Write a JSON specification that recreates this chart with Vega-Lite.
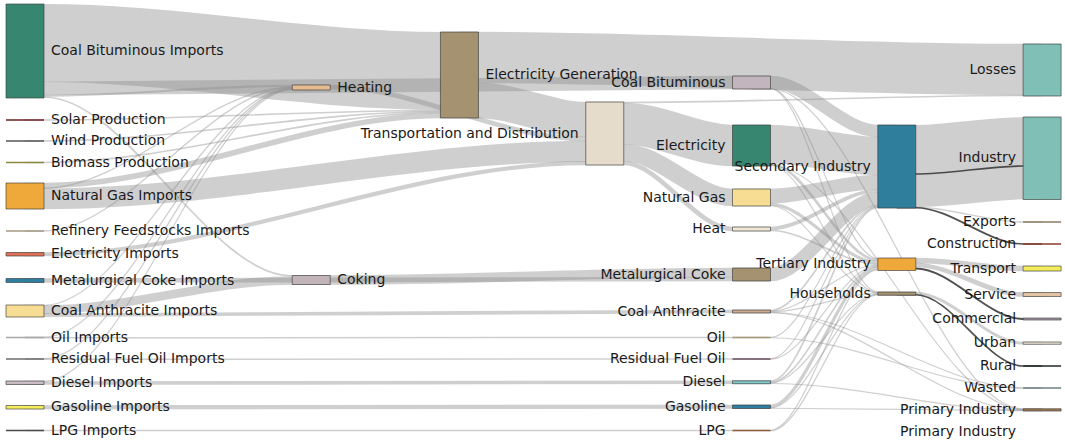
{
  "$schema": "https://vega.github.io/schema/vega-lite/v6.json",
  "width": 1065,
  "height": 442,
  "autosize": {"type": "none"},
  "padding": 0,
  "background": "white",
  "config": {"view": {"stroke": null}},
  "datasets": {
    "nodes": [
      {"id": "n0", "name": "Coal Bituminous Imports", "col": 0, "y0": 4, "y1": 98},
      {"id": "n1", "name": "Solar Production", "col": 0, "y0": 119.25, "y1": 120.75},
      {"id": "n2", "name": "Wind Production", "col": 0, "y0": 140.25, "y1": 141.75},
      {"id": "n3", "name": "Biomass Production", "col": 0, "y0": 161.75, "y1": 163.25},
      {"id": "n4", "name": "Natural Gas Imports", "col": 0, "y0": 183, "y1": 209},
      {"id": "n5", "name": "Refinery Feedstocks Imports", "col": 0, "y0": 230.25, "y1": 231.75},
      {"id": "n6", "name": "Electricity Imports", "col": 0, "y0": 252.5, "y1": 256},
      {"id": "n7", "name": "Metalurgical Coke Imports", "col": 0, "y0": 278.5, "y1": 282.5},
      {"id": "n8", "name": "Coal Anthracite Imports", "col": 0, "y0": 305, "y1": 317},
      {"id": "n9", "name": "Oil Imports", "col": 0, "y0": 336.75, "y1": 338.25},
      {"id": "n10", "name": "Residual Fuel Oil Imports", "col": 0, "y0": 358.25, "y1": 359.75},
      {"id": "n11", "name": "Diesel Imports", "col": 0, "y0": 381, "y1": 384.5},
      {"id": "n12", "name": "Gasoline Imports", "col": 0, "y0": 405.5, "y1": 409},
      {"id": "n13", "name": "LPG Imports", "col": 0, "y0": 429.75, "y1": 431.25},
      {"id": "n14", "name": "Heating", "col": 1.97, "y0": 85, "y1": 90},
      {"id": "n15", "name": "Coking", "col": 1.97, "y0": 275.5, "y1": 284.5},
      {"id": "n16", "name": "Electricity Generation", "col": 2.99, "y0": 32, "y1": 118},
      {"id": "n17", "name": "Transportation and Distribution", "col": 3.99, "y0": 102, "y1": 165},
      {"id": "n18", "name": "Coal Bituminous", "col": 5, "y0": 76, "y1": 89},
      {"id": "n19", "name": "Electricity", "col": 5, "y0": 125, "y1": 166},
      {"id": "n20", "name": "Natural Gas", "col": 5, "y0": 189, "y1": 206},
      {"id": "n21", "name": "Heat", "col": 5, "y0": 227, "y1": 231},
      {"id": "n22", "name": "Metalurgical Coke", "col": 5, "y0": 268, "y1": 281},
      {"id": "n23", "name": "Coal Anthracite", "col": 5, "y0": 310, "y1": 313},
      {"id": "n24", "name": "Oil", "col": 5, "y0": 336.75, "y1": 338.25},
      {"id": "n25", "name": "Residual Fuel Oil", "col": 5, "y0": 358.25, "y1": 359.75},
      {"id": "n26", "name": "Diesel", "col": 5, "y0": 380.75, "y1": 383.75},
      {"id": "n27", "name": "Gasoline", "col": 5, "y0": 405, "y1": 408.5},
      {"id": "n28", "name": "LPG", "col": 5, "y0": 429.75, "y1": 431.25},
      {"id": "n29", "name": "Secondary Industry", "col": 6, "y0": 125, "y1": 208},
      {"id": "n30", "name": "Tertiary Industry", "col": 6, "y0": 258, "y1": 270.5},
      {"id": "n31", "name": "Households", "col": 6, "y0": 292, "y1": 295.25},
      {"id": "n32", "name": "Losses", "col": 7, "y0": 44, "y1": 96},
      {"id": "n33", "name": "Industry", "col": 7, "y0": 117, "y1": 199.5},
      {"id": "n34", "name": "Exports", "col": 7, "y0": 221.25, "y1": 222.75},
      {"id": "n35", "name": "Construction", "col": 7, "y0": 243.25, "y1": 244.75},
      {"id": "n36", "name": "Transport", "col": 7, "y0": 266, "y1": 271},
      {"id": "n37", "name": "Service", "col": 7, "y0": 292.5, "y1": 296.5},
      {"id": "n38", "name": "Commercial", "col": 7, "y0": 318, "y1": 320},
      {"id": "n39", "name": "Urban", "col": 7, "y0": 342, "y1": 344.25},
      {"id": "n40", "name": "Rural", "col": 7, "y0": 365.25, "y1": 366.75},
      {"id": "n41", "name": "Wasted", "col": 7, "y0": 387.25, "y1": 388.75},
      {"id": "n42", "name": "Primary Industry", "col": 7, "y0": 408.75, "y1": 411},
      {"id": "n43", "name": "Primary Industry", "col": 7, "y0": 432, "y1": 432}
    ],
    "links": [
      {"id": "l1", "v": 78, "k": "g", "x": [0, 0.13, 2.86, 2.99], "y": [43, 43, 71, 71]},
      {"id": "l2", "v": 13, "k": "g", "x": [0, 0.13, 4.87, 5], "y": [88.5, 88.5, 82.5, 82.5]},
      {"id": "l3", "v": 1.5, "k": "g", "x": [0, 0.13, 1.84, 1.97], "y": [95.75, 95.75, 85.75, 85.75]},
      {"id": "l4", "v": 1, "k": "g", "x": [0, 0.13, 1.84, 1.97], "y": [97, 97, 276, 276]},
      {"id": "l5", "v": 1, "k": "g", "x": [0, 0.13, 2.86, 2.99], "y": [120, 120, 110.5, 110.5]},
      {"id": "l6", "v": 1, "k": "g", "x": [0, 0.13, 2.86, 2.99], "y": [141, 141, 111.5, 111.5]},
      {"id": "l7", "v": 1, "k": "g", "x": [0, 0.13, 2.86, 2.99], "y": [162.5, 162.5, 112.5, 112.5]},
      {"id": "l8", "v": 5, "k": "g", "x": [0, 0.13, 2.86, 2.99], "y": [185.5, 185.5, 115.5, 115.5]},
      {"id": "l9", "v": 0.6, "k": "g", "x": [0, 0.13, 1.84, 1.97], "y": [188.3, 188.3, 86.8, 86.8]},
      {"id": "l10", "v": 20.4, "k": "g", "x": [0, 0.13, 3.86, 3.99], "y": [198.8, 198.8, 151.2, 151.2]},
      {"id": "l11", "v": 0.6, "k": "g", "x": [0, 0.13, 1.84, 1.97], "y": [231, 231, 87.4, 87.4]},
      {"id": "l12", "v": 3.5, "k": "g", "x": [0, 0.13, 3.86, 3.99], "y": [254.25, 254.25, 163.15, 163.15]},
      {"id": "l13", "v": 4, "k": "g", "x": [0, 0.13, 4.87, 5], "y": [280.5, 280.5, 279, 279]},
      {"id": "l14", "v": 0.6, "k": "g", "x": [0, 0.13, 1.84, 1.97], "y": [305.3, 305.3, 88, 88]},
      {"id": "l15", "v": 8, "k": "g", "x": [0, 0.13, 1.84, 1.97], "y": [309.6, 309.6, 280.5, 280.5]},
      {"id": "l16", "v": 3, "k": "g", "x": [0, 0.13, 4.87, 5], "y": [315.1, 315.1, 311.5, 311.5]},
      {"id": "l17", "v": 0.6, "k": "g", "x": [0, 0.13, 1.84, 1.97], "y": [337.2, 337.2, 88.6, 88.6]},
      {"id": "l18", "v": 0.8, "k": "g", "x": [0, 0.13, 4.87, 5], "y": [337.7, 337.7, 337.5, 337.5]},
      {"id": "l19", "v": 0.6, "k": "g", "x": [0, 0.13, 1.84, 1.97], "y": [358.7, 358.7, 89.2, 89.2]},
      {"id": "l20", "v": 0.8, "k": "g", "x": [0, 0.13, 4.87, 5], "y": [359.2, 359.2, 359, 359]},
      {"id": "l21", "v": 0.5, "k": "g", "x": [0, 0.13, 1.84, 1.97], "y": [381.25, 381.25, 89.75, 89.75]},
      {"id": "l22", "v": 3, "k": "g", "x": [0, 0.13, 4.87, 5], "y": [383, 383, 382.25, 382.25]},
      {"id": "l23", "v": 3.5, "k": "g", "x": [0, 0.13, 4.87, 5], "y": [407.25, 407.25, 406.75, 406.75]},
      {"id": "l24", "v": 1, "k": "g", "x": [0, 0.13, 4.87, 5], "y": [430.5, 430.5, 430.5, 430.5]},
      {"id": "l25", "v": 4, "k": "g", "x": [1.97, 2.1, 3.86, 3.99], "y": [87, 87, 139, 139]},
      {"id": "l26", "v": 9, "k": "g", "x": [1.97, 2.1, 4.87, 5], "y": [280, 280, 272.5, 272.5]},
      {"id": "l27", "v": 51, "k": "g", "x": [2.99, 3.12, 6.87, 7], "y": [57.5, 57.5, 69.5, 69.5]},
      {"id": "l28", "v": 35, "k": "g", "x": [2.99, 3.12, 3.86, 3.99], "y": [100.5, 100.5, 119.5, 119.5]},
      {"id": "l29", "v": 1, "k": "g", "x": [3.99, 4.12, 6.87, 7], "y": [102.5, 102.5, 95.5, 95.5]},
      {"id": "l30", "v": 41, "k": "g", "x": [3.99, 4.12, 4.87, 5], "y": [123.5, 123.5, 145.5, 145.5]},
      {"id": "l31", "v": 17, "k": "g", "x": [3.99, 4.12, 4.87, 5], "y": [152.5, 152.5, 197.5, 197.5]},
      {"id": "l32", "v": 4, "k": "g", "x": [3.99, 4.12, 4.87, 5], "y": [163, 163, 229, 229]},
      {"id": "l33", "v": 12, "k": "g", "x": [5, 5.13, 5.87, 6], "y": [82, 82, 131, 131]},
      {"id": "l34", "v": 0.5, "k": "g", "x": [5, 5.13, 5.87, 6], "y": [88.25, 88.25, 258.5, 258.5]},
      {"id": "l35", "v": 0.5, "k": "g", "x": [5, 5.13, 5.87, 6], "y": [88.6, 88.6, 292.1, 292.1]},
      {"id": "l36", "v": 0.5, "k": "g", "x": [5, 5.13, 6.87, 7], "y": [88.9, 88.9, 408.9, 408.9]},
      {"id": "l37", "v": 38, "k": "g", "x": [5, 5.13, 5.87, 6], "y": [144, 144, 156, 156]},
      {"id": "l38", "v": 2, "k": "g", "x": [5, 5.13, 5.87, 6], "y": [164, 164, 260, 260]},
      {"id": "l39", "v": 0.5, "k": "g", "x": [5, 5.13, 5.87, 6], "y": [165.25, 165.25, 292.5, 292.5]},
      {"id": "l40", "v": 0.5, "k": "g", "x": [5, 5.13, 6.87, 7], "y": [165.75, 165.75, 409.3, 409.3]},
      {"id": "l41", "v": 14, "k": "g", "x": [5, 5.13, 5.87, 6], "y": [196, 196, 182, 182]},
      {"id": "l42", "v": 2.5, "k": "g", "x": [5, 5.13, 5.87, 6], "y": [204.25, 204.25, 262.5, 262.5]},
      {"id": "l43", "v": 0.5, "k": "g", "x": [5, 5.13, 5.87, 6], "y": [205.75, 205.75, 293, 293]},
      {"id": "l44", "v": 3, "k": "g", "x": [5, 5.13, 5.87, 6], "y": [228.5, 228.5, 190.5, 190.5]},
      {"id": "l45", "v": 1, "k": "g", "x": [5, 5.13, 5.87, 6], "y": [230.5, 230.5, 264.25, 264.25]},
      {"id": "l46", "v": 13, "k": "g", "x": [5, 5.13, 5.87, 6], "y": [274.5, 274.5, 198.5, 198.5]},
      {"id": "l47", "v": 1, "k": "g", "x": [5, 5.13, 5.87, 6], "y": [310.5, 310.5, 205.5, 205.5]},
      {"id": "l48", "v": 0.5, "k": "g", "x": [5, 5.13, 5.87, 6], "y": [311.25, 311.25, 265, 265]},
      {"id": "l49", "v": 0.5, "k": "g", "x": [5, 5.13, 5.87, 6], "y": [311.75, 311.75, 293.5, 293.5]},
      {"id": "l50", "v": 0.5, "k": "g", "x": [5, 5.13, 6.87, 7], "y": [312.25, 312.25, 387.75, 387.75]},
      {"id": "l51", "v": 0.5, "k": "g", "x": [5, 5.13, 6.87, 7], "y": [312.75, 312.75, 409.6, 409.6]},
      {"id": "l52", "v": 0.5, "k": "g", "x": [5, 5.13, 5.87, 6], "y": [337.25, 337.25, 206.25, 206.25]},
      {"id": "l53", "v": 0.5, "k": "g", "x": [5, 5.13, 6.87, 7], "y": [337.75, 337.75, 388.25, 388.25]},
      {"id": "l54", "v": 0.5, "k": "g", "x": [5, 5.13, 5.87, 6], "y": [358.75, 358.75, 206.75, 206.75]},
      {"id": "l55", "v": 0.5, "k": "g", "x": [5, 5.13, 5.87, 6], "y": [359.25, 359.25, 265.5, 265.5]},
      {"id": "l56", "v": 1, "k": "g", "x": [5, 5.13, 5.87, 6], "y": [381.25, 381.25, 207.5, 207.5]},
      {"id": "l57", "v": 1, "k": "g", "x": [5, 5.13, 5.87, 6], "y": [382.25, 382.25, 266.5, 266.5]},
      {"id": "l58", "v": 0.5, "k": "g", "x": [5, 5.13, 5.87, 6], "y": [383, 383, 294, 294]},
      {"id": "l59", "v": 0.5, "k": "g", "x": [5, 5.13, 6.87, 7], "y": [383.5, 383.5, 410.1, 410.1]},
      {"id": "l60", "v": 2.5, "k": "g", "x": [5, 5.13, 5.87, 6], "y": [406.25, 406.25, 268.25, 268.25]},
      {"id": "l61", "v": 0.5, "k": "g", "x": [5, 5.13, 5.87, 6], "y": [407.75, 407.75, 294.5, 294.5]},
      {"id": "l62", "v": 0.5, "k": "g", "x": [5, 5.13, 6.87, 7], "y": [408.25, 408.25, 410.6, 410.6]},
      {"id": "l63", "v": 0.5, "k": "g", "x": [5, 5.13, 5.87, 6], "y": [430.25, 430.25, 269.75, 269.75]},
      {"id": "l64", "v": 0.5, "k": "g", "x": [5, 5.13, 5.87, 6], "y": [430.75, 430.75, 295, 295]},
      {"id": "l65", "v": 82, "k": "g", "x": [6, 6.13, 6.87, 7], "y": [166, 166, 158.25, 158.25]},
      {"id": "l66", "v": 1, "k": "d", "x": [6, 6.13, 6.87, 7], "y": [174, 174, 166, 166]},
      {"id": "l67", "v": 0.8, "k": "g", "x": [6, 6.13, 6.87, 7], "y": [207.25, 207.25, 222, 222]},
      {"id": "l68", "v": 1, "k": "d", "x": [6, 6.13, 6.87, 7], "y": [207.75, 207.75, 244, 244]},
      {"id": "l69", "v": 5, "k": "g", "x": [6, 6.13, 6.87, 7], "y": [260.5, 260.5, 268.5, 268.5]},
      {"id": "l70", "v": 4, "k": "g", "x": [6, 6.13, 6.87, 7], "y": [265, 265, 294.5, 294.5]},
      {"id": "l71", "v": 1.2, "k": "d", "x": [6, 6.13, 6.87, 7], "y": [268.5, 268.5, 319, 319]},
      {"id": "l72", "v": 2.25, "k": "g", "x": [6, 6.13, 6.87, 7], "y": [293.1, 293.1, 343.1, 343.1]},
      {"id": "l73", "v": 1, "k": "d", "x": [6, 6.13, 6.87, 7], "y": [294.75, 294.75, 366, 366]}
    ]
  },
  "layer": [
    {
      "data": {"name": "links"},
      "transform": [{"flatten": ["x", "y"]}],
      "mark": {"type": "line", "interpolate": "monotone", "strokeCap": "butt", "strokeJoin": "round", "clip": true},
      "encoding": {
        "x": {"field": "x", "type": "quantitative", "scale": {"domain": [-0.1721, 7.1576], "nice": false, "zero": false, "padding": 0}, "axis": null},
        "y": {"field": "y", "type": "quantitative", "scale": {"domain": [0, 442], "reverse": true, "nice": false, "zero": false, "padding": 0}, "axis": null},
        "detail": {"field": "id", "type": "nominal"},
        "strokeWidth": {"field": "v", "type": "quantitative", "scale": {"domain": [0, 100], "range": [0.7, 100]}, "legend": null},
        "color": {"field": "k", "type": "nominal", "scale": {"domain": ["g", "d"], "range": ["#8c8c8c", "#333333"]}, "legend": null},
        "opacity": {"field": "k", "type": "nominal", "scale": {"domain": ["g", "d"], "range": [0.42, 0.85]}, "legend": null}
      }
    },
    {
      "data": {"name": "nodes"},
      "transform": [{"filter": "datum.y1 - datum.y0 >= 2"}],
      "mark": {"type": "bar", "width": 38, "stroke": "#3a3a3a", "strokeWidth": 0.8, "strokeOpacity": 0.8, "opacity": 1},
      "encoding": {
        "x": {"field": "col", "type": "quantitative", "scale": {"domain": [-0.1721, 7.1576], "nice": false, "zero": false, "padding": 0}, "axis": null},
        "y": {"field": "y0", "type": "quantitative", "scale": {"domain": [0, 442], "reverse": true, "nice": false, "zero": false, "padding": 0}, "axis": null},
        "y2": {"field": "y1"},
        "fill": {
          "field": "id", "type": "nominal", "legend": null,
          "scale": {
            "domain": ["n0","n1","n2","n3","n4","n5","n6","n7","n8","n9","n10","n11","n12","n13","n14","n15","n16","n17","n18","n19","n20","n21","n22","n23","n24","n25","n26","n27","n28","n29","n30","n31","n32","n33","n34","n35","n36","n37","n38","n39","n40","n41","n42","n43"],
            "range": ["#378770","#6b1f1f","#555555","#8c8a3c","#efa93b","#a39a84","#e07158","#2f7fa0","#f7dc94","#a8a8a8","#6e6e6e","#c9bcc4","#f4ec5c","#4a4a4a","#e6bb92","#c3b4ba","#a49270","#e6dccb","#c3b5bd","#378770","#f7dc94","#efe6d6","#a49270","#c9ab92","#a49a76","#6d4f5e","#7cc7c6","#2f7fa0","#8b5e3c","#2f7f9c","#efa93b","#a49270","#7fbfb6","#7fbfb6","#8b7b63","#8c3b2e","#f4ec5c","#e2c3a2","#a99aa8","#ece4d6","#1f2a2a","#6f8080","#a07b52","#a07b52"]
          }
        }
      }
    },
    {
      "data": {"name": "nodes"},
      "transform": [{"filter": "datum.y1 - datum.y0 < 2 && datum.y1 > datum.y0"}],
      "mark": {"type": "bar", "width": 38, "strokeWidth": 0, "opacity": 1},
      "encoding": {
        "x": {"field": "col", "type": "quantitative", "scale": {"domain": [-0.1721, 7.1576], "nice": false, "zero": false, "padding": 0}, "axis": null},
        "y": {"field": "y0", "type": "quantitative", "scale": {"domain": [0, 442], "reverse": true, "nice": false, "zero": false, "padding": 0}, "axis": null},
        "y2": {"field": "y1"},
        "fill": {
          "field": "id", "type": "nominal", "legend": null,
          "scale": {
            "domain": ["n0","n1","n2","n3","n4","n5","n6","n7","n8","n9","n10","n11","n12","n13","n14","n15","n16","n17","n18","n19","n20","n21","n22","n23","n24","n25","n26","n27","n28","n29","n30","n31","n32","n33","n34","n35","n36","n37","n38","n39","n40","n41","n42","n43"],
            "range": ["#378770","#6b1f1f","#555555","#8c8a3c","#efa93b","#a39a84","#e07158","#2f7fa0","#f7dc94","#a8a8a8","#6e6e6e","#c9bcc4","#f4ec5c","#4a4a4a","#e6bb92","#c3b4ba","#a49270","#e6dccb","#c3b5bd","#378770","#f7dc94","#efe6d6","#a49270","#c9ab92","#a49a76","#6d4f5e","#7cc7c6","#2f7fa0","#8b5e3c","#2f7f9c","#efa93b","#a49270","#7fbfb6","#7fbfb6","#8b7b63","#8c3b2e","#f4ec5c","#e2c3a2","#a99aa8","#ece4d6","#1f2a2a","#6f8080","#a07b52","#a07b52"]
          }
        }
      }
    },
    {
      "data": {"name": "nodes"},
      "transform": [{"filter": "datum.col < 3.5"}, {"fold": ["y0", "y1"], "as": ["edge", "yv"]}],
      "mark": {"type": "text", "align": "left", "baseline": "middle", "dx": 26, "font": "DejaVu Sans", "fontSize": 14, "color": "#1a1a1a"},
      "encoding": {
        "x": {"field": "col", "type": "quantitative", "scale": {"domain": [-0.1721, 7.1576], "nice": false, "zero": false, "padding": 0}, "axis": null},
        "y": {"field": "yv", "aggregate": "mean", "type": "quantitative", "scale": {"domain": [0, 442], "reverse": true, "nice": false, "zero": false, "padding": 0}, "axis": null},
        "detail": {"field": "id", "type": "nominal"},
        "text": {"field": "name", "type": "nominal"}
      }
    },
    {
      "data": {"name": "nodes"},
      "transform": [{"filter": "datum.col >= 3.5"}, {"fold": ["y0", "y1"], "as": ["edge", "yv"]}],
      "mark": {"type": "text", "align": "right", "baseline": "middle", "dx": -26, "font": "DejaVu Sans", "fontSize": 14, "color": "#1a1a1a"},
      "encoding": {
        "x": {"field": "col", "type": "quantitative", "scale": {"domain": [-0.1721, 7.1576], "nice": false, "zero": false, "padding": 0}, "axis": null},
        "y": {"field": "yv", "aggregate": "mean", "type": "quantitative", "scale": {"domain": [0, 442], "reverse": true, "nice": false, "zero": false, "padding": 0}, "axis": null},
        "detail": {"field": "id", "type": "nominal"},
        "text": {"field": "name", "type": "nominal"}
      }
    }
  ]
}
